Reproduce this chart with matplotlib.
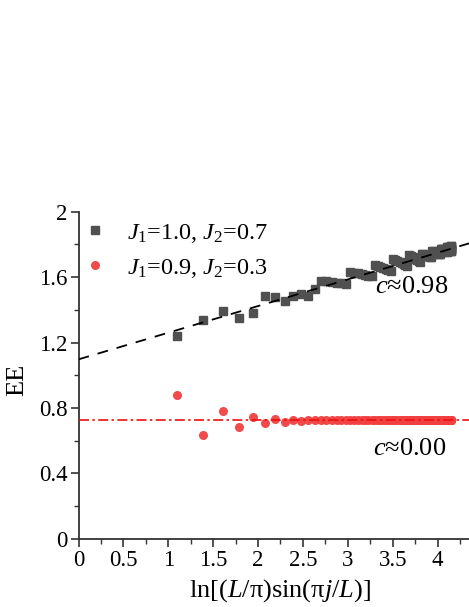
import matplotlib
matplotlib.use('Agg')
import matplotlib.pyplot as plt
from matplotlib.ticker import MultipleLocator, FixedLocator

plt.rcParams['font.family'] = ['Liberation Serif', 'DejaVu Serif']
plt.rcParams['mathtext.fontset'] = 'custom'
plt.rcParams['mathtext.rm'] = 'Liberation Serif'
plt.rcParams['mathtext.it'] = 'Liberation Serif:italic'

# x = ln[(L/pi) sin(pi j/L)], j = 3..100
x_vals = [1.098, 1.386, 1.608, 1.790, 1.944, 2.077, 2.194, 2.298, 2.393, 2.479,
          2.558, 2.631, 2.699, 2.762, 2.821, 2.877, 2.930, 2.979, 3.026, 3.071,
          3.114, 3.154, 3.193, 3.230, 3.266, 3.300, 3.332, 3.364, 3.394, 3.423,
          3.451, 3.478, 3.504, 3.529, 3.554, 3.577, 3.600, 3.622, 3.643, 3.664,
          3.684, 3.703, 3.722, 3.740, 3.758, 3.775, 3.791, 3.807, 3.823, 3.838,
          3.852, 3.866, 3.880, 3.893, 3.906, 3.918, 3.930, 3.942, 3.953, 3.964,
          3.974, 3.984, 3.994, 4.004, 4.013, 4.022, 4.030, 4.038, 4.046, 4.054,
          4.061, 4.068, 4.074, 4.081, 4.087, 4.093, 4.098, 4.103, 4.108, 4.113,
          4.118, 4.122, 4.126, 4.129, 4.133, 4.136, 4.139, 4.141, 4.144, 4.146,
          4.148, 4.149, 4.151, 4.152, 4.153, 4.153, 4.154, 4.154]

ee_a = [1.240, 1.338, 1.393, 1.352, 1.382, 1.486, 1.480, 1.456, 1.486, 1.497,
        1.486, 1.525, 1.577, 1.574, 1.571, 1.567, 1.563, 1.558, 1.630, 1.627,
        1.623, 1.618, 1.614, 1.609, 1.604, 1.675, 1.669, 1.663, 1.657, 1.652,
        1.646, 1.639, 1.708, 1.703, 1.697, 1.692, 1.687, 1.681, 1.675, 1.669,
        1.737, 1.732, 1.725, 1.719, 1.713, 1.706, 1.699, 1.693, 1.740, 1.739,
        1.736, 1.734, 1.732, 1.730, 1.728, 1.725, 1.723, 1.760, 1.757, 1.755,
        1.753, 1.751, 1.748, 1.746, 1.743, 1.741, 1.739, 1.775, 1.773, 1.771,
        1.769, 1.767, 1.764, 1.762, 1.759, 1.757, 1.755, 1.751, 1.787, 1.784,
        1.782, 1.779, 1.777, 1.774, 1.772, 1.769, 1.767, 1.763, 1.760, 1.758,
        1.793, 1.788, 1.784, 1.779, 1.774, 1.769, 1.764, 1.759]

ee_b = [0.878, 0.636, 0.783, 0.685, 0.746, 0.706, 0.730, 0.715, 0.726, 0.722,
        0.728, 0.724, 0.727] + [0.726] * 85

fit_a = [1.097, 0.163]   # intercept, slope (c/6)
fit_b = 0.726

lab_a = r'$J_1$=1.0, $J_2$=0.7'
lab_b = r'$J_1$=0.9, $J_2$=0.3'

fig = plt.figure(figsize=(4.69, 6.07), dpi=100)
ax = fig.add_axes([0.1674, 0.1125, 0.842, 0.5387])

xs = [0, 4.4]
ax.plot(xs, [fit_a[0] + fit_a[1]*x for x in xs], '--', color='black', lw=1.3, dashes=(6, 5), zorder=3)
ax.axhline(fit_b, color='#ee1111', lw=1.2, ls=(0, (6, 2, 1.5, 2)), zorder=3)

ax.plot(x_vals, ee_a, 's', color='#505050', ms=5.5, mec='#505050', label=lab_a, zorder=2)
ax.plot(x_vals, ee_b, 'o', color='#f04040', ms=6.5, mec='none', alpha=0.95, label=lab_b, zorder=2)

ax.set_xlim(0, 4.4)
ax.set_ylim(0, 2)
ax.xaxis.set_major_locator(FixedLocator([0, 0.5, 1, 1.5, 2, 2.5, 3, 3.5, 4]))
ax.set_xticklabels(['0', '0.5', '1', '1.5', '2', '2.5', '3', '3.5', '4'])
ax.xaxis.set_minor_locator(MultipleLocator(0.25))
ax.yaxis.set_major_locator(FixedLocator([0, 0.4, 0.8, 1.2, 1.6, 2]))
ax.set_yticklabels(['0', '0.4', '0.8', '1.2', '1.6', '2'])
ax.yaxis.set_minor_locator(MultipleLocator(0.2))

for s in ['top', 'right']:
    ax.spines[s].set_visible(False)
for s in ['left', 'bottom']:
    ax.spines[s].set_linewidth(1.3)
    ax.spines[s].set_color('#333333')
ax.tick_params(which='major', direction='out', length=6, width=1.2, labelsize=16.5, color='#333333', pad=2)
ax.tick_params(which='minor', direction='out', length=3.5, width=1.0, color='#333333')

ax.set_xlabel(r'ln[($L$/π)sin(π$j$/$L$)]', fontsize=19)
ax.set_ylabel('EE', fontsize=19)
ax.xaxis.set_label_coords(0.51, -0.118)
ax.yaxis.set_label_coords(-0.128, 0.485)

ax.text(3.71, 1.54, r'$c$≈0.98', fontsize=19, ha='center', va='center')
ax.text(3.69, 0.55, r'$c$≈0.00', fontsize=19, ha='center', va='center')

ax.legend(loc='upper left', bbox_to_anchor=(0.006, 0.969), frameon=False, fontsize=17.5,
          handletextpad=0.68, handlelength=1.2, labelspacing=0.49, borderaxespad=0, borderpad=0)

fig.savefig('out.png', dpi=100)
